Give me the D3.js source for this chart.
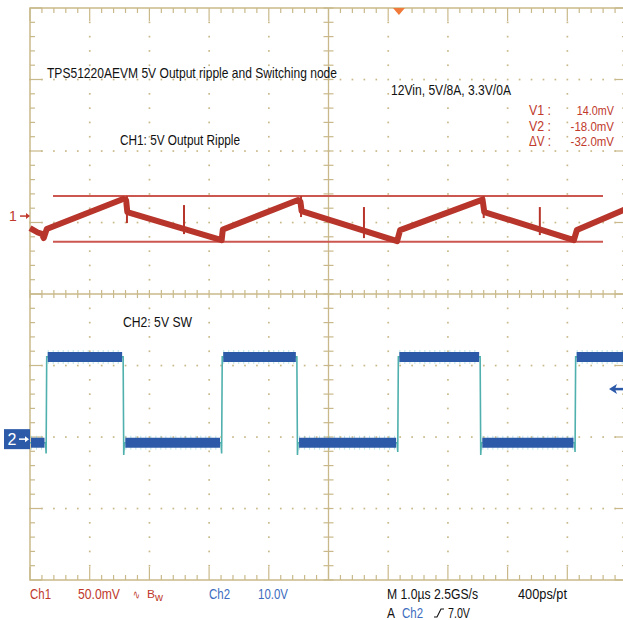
<!DOCTYPE html>
<html>
<head>
<meta charset="utf-8">
<script src="https://cdn.jsdelivr.net/npm/d3@7"></script>
<style>
  body { margin: 0; background: #fff; }
  svg { display: block; font-family: "Liberation Sans", Arial, sans-serif; }
</style>
</head>
<body>
<div id="scope"></div>
<script>
// ---- data ----
// ch1: output ripple, time in us, value in mV
const ch1Time = [-6.18, -6.05, -5.98, -5.95, -5.90, -4.62, -4.57, -4.55, -2.97, -2.95, -1.69, -1.65, -1.63, -0.03, 0.02, 1.40, 1.43, 2.93, 2.98, 3.82];
const ch1Mv   = [-8.4, -11.5, -12.5, -15.4, -9.1, 11.9, 11.0, 2.8, -16.8, -9.4, 11.2, 10.0, 3.5, -17.5, -9.8, 11.5, 2.8, -16.8, -9.8, 5.2];
// switching spikes on ch1
const spikeTime = [-4.556, -3.60, -1.64, -0.586, 1.42, 2.36];
const spikeHigh = [14.0, 7.7, 14.0, 6.3, 14.0, 6.3];
const spikeLow  = [-4.9, -12.6, -0.7, -15.4, -1.4, -13.3];
// ch2: switch node, time in us, value in V
const ch2Time = [-6.18, -5.92, -5.91, -5.90, -4.62, -4.61, -4.60, -2.98, -2.97, -2.96, -1.71, -1.70, -1.69, -0.03, -0.02, -0.01, 1.36, 1.37, 1.38, 2.94, 2.95, 2.96, 3.82];
const ch2Volt = [-0.5, -0.5, -2.0, 11.5, 11.5, -2.2, -0.5, -0.5, -2.0, 11.5, 11.5, -2.2, -0.5, -0.5, -1.8, 11.5, 11.5, -2.2, -0.5, -0.5, -1.8, 11.5, 11.5];
// cursors (mV)
const cursorNames = ["V1 :", "V2 :", "\u0394V :"];
const cursorValues = ["14.0mV", "-18.0mV", "-32.0mV"];
const cursorLevels = [14.0, -18.0];
const ch1PerDiv = 50;   // mV
const ch2PerDiv = 10;   // V
const ch1Offset = 1.09;  // ground marker, divisions above centre
const ch2Offset = -2.03; // divisions above centre (negative = below)
const triggerLevel = 7.0;

// ---- layout ----
const W = 623, H = 620;
const gLeft = 30, gTop = 8, gRight = 627, gBottom = 580;
const gridCol = "#c9b98a";
const red = "#b8352b", blue = "#2d5aa8", teal = "#4fb0ad";

const svg = d3.select("#scope").append("svg").attr("width", W).attr("height", H);

const gx = d3.scaleLinear().domain([-5, 5]).range([gLeft, gRight]);
const gy = d3.scaleLinear().domain([-4, 4]).range([gBottom, gTop]);
const x = d3.scaleLinear().domain([-6.18, 3.82]).range([gLeft, gRight]);
const y1 = d3.scaleLinear().domain([(-4 - ch1Offset) * ch1PerDiv, (4 - ch1Offset) * ch1PerDiv]).range([gBottom, gTop]);
const y2 = d3.scaleLinear().domain([(-4 - ch2Offset) * ch2PerDiv, (4 - ch2Offset) * ch2PerDiv]).range([gBottom, gTop]);

// ---- graticule ----
const grid = svg.append("g").attr("stroke", gridCol).attr("fill", gridCol);
const minorX = d3.range(-5, 5.001, 0.2);
const minorY = d3.range(-4, 4.001, 0.2);
const isMajor = (v) => Math.abs(v - Math.round(v)) < 0.01;

// dots along the division lines
d3.range(-4, 5).forEach((dx) => {
  if (dx === 0) return;
  minorY.forEach((v) => {
    if (isMajor(v)) return;
    grid.append("rect").attr("x", gx(dx) - 0.8).attr("y", gy(v) - 0.8).attr("width", 1.7).attr("height", 1.7).attr("stroke", "none");
  });
});
d3.range(-3, 4).forEach((dy) => {
  if (dy === 0) return;
  minorX.forEach((v) => {
    grid.append("rect").attr("x", gx(v) - 0.8).attr("y", gy(dy) - 0.8).attr("width", 1.7).attr("height", 1.7).attr("stroke", "none");
  });
});

// border and centre lines
grid.append("rect").attr("x", gLeft).attr("y", gTop).attr("width", gRight - gLeft).attr("height", gBottom - gTop)
  .attr("fill", "none").attr("stroke-width", 1.5);
grid.append("line").attr("x1", gx(0)).attr("x2", gx(0)).attr("y1", gTop).attr("y2", gBottom).attr("stroke-width", 1.3);
grid.append("line").attr("x1", gLeft).attr("x2", gRight).attr("y1", gy(0)).attr("y2", gy(0)).attr("stroke-width", 1.3);

// edge ticks
minorX.forEach((v) => {
  const len = isMajor(v) ? 13 : 5;
  grid.append("line").attr("x1", gx(v)).attr("x2", gx(v)).attr("y1", gTop).attr("y2", gTop + len).attr("stroke-width", 1.2);
  grid.append("line").attr("x1", gx(v)).attr("x2", gx(v)).attr("y1", gBottom).attr("y2", gBottom - len).attr("stroke-width", 1.2);
  grid.append("line").attr("x1", gx(v)).attr("x2", gx(v)).attr("y1", gy(0) - 4).attr("y2", gy(0) + 4).attr("stroke-width", 1.2);
});
minorY.forEach((v) => {
  const len = isMajor(v) ? 12 : 5;
  grid.append("line").attr("y1", gy(v)).attr("y2", gy(v)).attr("x1", gLeft).attr("x2", gLeft + len).attr("stroke-width", 1.2);
  grid.append("line").attr("y1", gy(v)).attr("y2", gy(v)).attr("x1", gRight).attr("x2", gRight - len).attr("stroke-width", 1.2);
  grid.append("line").attr("y1", gy(v)).attr("y2", gy(v)).attr("x1", gx(0) - 5).attr("x2", gx(0) + 5).attr("stroke-width", 1.2);
});

// ---- text helper ----
function label(px, py, str, color, width, size, anchor) {
  const t = svg.append("text").attr("x", px).attr("y", py).attr("fill", color)
    .attr("font-size", size || 14).attr("text-anchor", anchor || "start").text(str);
  if (width) t.attr("textLength", width).attr("lengthAdjust", "spacingAndGlyphs");
  return t;
}

label(47, 78, "TPS51220AEVM 5V Output ripple and Switching node", "#111", 290, 15);
label(391, 95, "12Vin, 5V/8A, 3.3V/0A", "#111", 120, 15);
label(120, 145, "CH1: 5V Output Ripple", "#111", 120, 15);
label(123, 327, "CH2: 5V SW", "#111", 69, 15);

cursorNames.forEach((n, i) => {
  label(529, 115 + i * 15.5, n, "#c0392b", 22, 14);
  const w = cursorValues[i].length * 6.2;
  label(614 - w, 115 + i * 15.5, cursorValues[i], "#c0392b", w, 13);
});

// ---- ch1 cursors ----
svg.selectAll("line.cursor").data(cursorLevels).enter().append("line")
  .attr("class", "cursor")
  .attr("x1", 53).attr("x2", 603)
  .attr("y1", (d) => y1(d)).attr("y2", (d) => y1(d))
  .attr("stroke", "#cc5650").attr("stroke-width", 2);

// ---- ch1 trace ----
const ch1Data = ch1Time.map((t, i) => [t, ch1Mv[i]]);
svg.append("path").datum(ch1Data)
  .attr("d", d3.line().x((d) => x(d[0])).y((d) => y1(d[1])))
  .attr("fill", "none").attr("stroke", red).attr("stroke-width", 6).attr("stroke-linejoin", "round");
svg.selectAll("line.spike").data(spikeTime).enter().append("line")
  .attr("class", "spike")
  .attr("x1", (d) => x(d)).attr("x2", (d) => x(d))
  .attr("y1", (d, i) => y1(spikeHigh[i])).attr("y2", (d, i) => y1(spikeLow[i]))
  .attr("stroke", red).attr("stroke-width", 2);

// ---- ch2 trace ----
const ch2Data = ch2Time.map((t, i) => [t, ch2Volt[i]]);
const flats = [];
for (let i = 1; i < ch2Data.length; i++) {
  if (ch2Data[i][1] === ch2Data[i - 1][1] && ch2Data[i][0] - ch2Data[i - 1][0] > 0.05) flats.push([ch2Data[i - 1], ch2Data[i]]);
}
svg.append("path").datum(ch2Data)
  .attr("d", d3.line().x((d) => x(d[0])).y((d) => y2(d[1])))
  .attr("fill", "none").attr("stroke", teal).attr("stroke-width", 1.6);
svg.selectAll("line.fringe").data(flats).enter().append("line")
  .attr("class", "fringe")
  .attr("x1", (d) => x(d[0][0]) + 1).attr("x2", (d) => x(d[1][0]) - 1)
  .attr("y1", (d) => y2(d[0][1])).attr("y2", (d) => y2(d[1][1]))
  .attr("stroke", "#8fd3d6").attr("stroke-width", 14).attr("stroke-dasharray", "1 4").attr("opacity", 0.6);
svg.selectAll("line.band").data(flats).enter().append("line")
  .attr("class", "band")
  .attr("x1", (d) => x(d[0][0]) + 1).attr("x2", (d) => x(d[1][0]) - 1)
  .attr("y1", (d) => y2(d[0][1])).attr("y2", (d) => y2(d[1][1]))
  .attr("stroke", blue).attr("stroke-width", 10);

// ---- markers ----
// ch1 ground
const g1 = y1(0);
label(13, g1 + 5, "1", "#c0392b", null, 14, "middle");
svg.append("line").attr("x1", 20).attr("x2", 26).attr("y1", g1).attr("y2", g1).attr("stroke", "#c0392b").attr("stroke-width", 1.5);
svg.append("path").attr("d", `M26,${g1 - 3}L30,${g1}L26,${g1 + 3}Z`).attr("fill", "#c0392b");
// ch2 ground
const g2 = y2(0);
svg.append("rect").attr("x", 4).attr("y", g2 - 10).attr("width", 26).attr("height", 20).attr("fill", blue);
label(12, g2 + 6, "2", "#fff", null, 16, "middle");
svg.append("line").attr("x1", 19).attr("x2", 25).attr("y1", g2).attr("y2", g2).attr("stroke", "#fff").attr("stroke-width", 1.5);
svg.append("path").attr("d", `M25,${g2 - 3}L29,${g2}L25,${g2 + 3}Z`).attr("fill", "#fff");
// trigger position
svg.append("path").attr("d", `M${x(0) - 6},${gTop}L${x(0) + 6},${gTop}L${x(0)},${gTop + 7}Z`).attr("fill", "#f07a3a");
// trigger level
const ty = y2(triggerLevel);
svg.append("line").attr("x1", 614).attr("x2", 623).attr("y1", ty).attr("y2", ty).attr("stroke", blue).attr("stroke-width", 2.5);
svg.append("path").attr("d", `M609,${ty}L617,${ty - 5}L615,${ty}L617,${ty + 5}Z`).attr("fill", blue);

// ---- bottom readout ----
label(30, 599, "Ch1", "#c0392b", 21, 14);
label(78, 599, "50.0mV", "#c0392b", 42, 14);
label(133, 599, "\u223F", "#c0392b", 7, 13);
label(147, 598, "B", "#c0392b", 8, 11);
label(155, 601, "w", "#c0392b", 8, 11);
label(209, 599, "Ch2", "#3d6cc0", 21, 14);
label(258, 599, "10.0V", "#3d6cc0", 30, 14);
label(387, 599, "M 1.0\u00B5s 2.5GS/s", "#111", 91, 14);
label(518, 599, "400ps/pt", "#111", 49, 14);
label(387, 618, "A", "#111", 8, 14);
label(402, 618, "Ch2", "#3d6cc0", 21, 14);
svg.append("path").attr("d", "M434,617L437,617L441,609L444,609").attr("fill", "none").attr("stroke", "#111").attr("stroke-width", 1.1);
label(448, 618, "7.0V", "#111", 22, 14);
</script>
</body>
</html>
